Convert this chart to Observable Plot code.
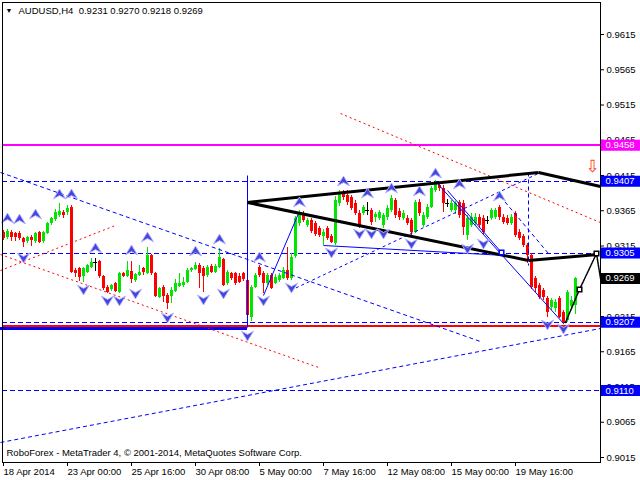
<!DOCTYPE html>
<html><head><meta charset="utf-8">
<script src="https://cdn.jsdelivr.net/npm/d3@7"></script>
<script src="https://cdn.jsdelivr.net/npm/@observablehq/plot@0.6"></script>
<style>html,body{margin:0;padding:0;background:#fff}</style>
</head><body><div id="chart"></div>
<script>
// ---- candle data (AUDUSD H4), bar index 0..143 ----
const opens  = [.9334,.9327,.9334,.9333,.9333,.9326,.9321,.9327,.9321,.9334,.9321,.9333,.9347,.9352,.9358,.9362,.9362,.9370,.9280,.9283,
.9272,.9277,.9284,.9292,.9293,.9272,.9256,.9253,.9262,.9249,.9276,.9272,.9279,.9266,.9273,.9283,.9276,.9301,.9276,.9242,
.9256,.9245,.9243,.9250,.9257,.9259,.9263,.9280,.9282,.9287,.9283,.9273,.9286,.9277,.9284,.9296,.9262,.9276,.9276,.9272,
.9276,.9266,.9214,.9256,.9284,.9276,.9262,.9273,.9262,.9266,.9269,.9280,.9269,.9300,.9347,.9361,.9344,.9351,.9347,.9340,
.9328,.9340,.9328,.9319,.9375,.9391,.9387,.9384,.9375,.9361,.9361,.9365,.9365,.9355,.9354,.9344,.9355,.9365,.9380,.9364,
.9354,.9354,.9351,.9334,.9377,.9344,.9355,.9370,.9394,.9401,.9397,.9375,.9365,.9365,.9377,.9375,.9330,.9344,.9347,.9355,
.9354,.9351,.9354,.9355,.9370,.9355,.9354,.9347,.9361,.9334,.9328,.9316,.9301,.9269,.9259,.9252,.9240,.9228,.9226,.9240,
.9221,.9209,.9229,.9231];
const highs  = [.9337,.9338,.9337,.9334,.9335,.9327,.9328,.9330,.9334,.9335,.9335,.9348,.9355,.9367,.9375,.9365,.9372,.9372,.9283,.9284,
.9284,.9289,.9297,.9297,.9294,.9273,.9259,.9260,.9263,.9277,.9277,.9293,.9293,.9276,.9287,.9284,.9313,.9303,.9277,.9256,
.9259,.9248,.9256,.9267,.9276,.9270,.9283,.9284,.9292,.9290,.9286,.9287,.9289,.9289,.9311,.9297,.9280,.9277,.9277,.9276,
.9277,.9269,.9259,.9276,.9287,.9279,.9276,.9276,.9275,.9276,.9284,.9313,.9304,.9357,.9365,.9364,.9354,.9354,.9350,.9343,
.9338,.9343,.9331,.9385,.9394,.9394,.9394,.9387,.9380,.9365,.9372,.9377,.9368,.9362,.9365,.9361,.9372,.9387,.9382,.9368,
.9365,.9358,.9354,.9380,.9381,.9362,.9374,.9399,.9408,.9404,.9401,.9381,.9380,.9378,.9380,.9380,.9358,.9361,.9361,.9360,
.9358,.9357,.9368,.9368,.9372,.9360,.9358,.9360,.9364,.9338,.9331,.9319,.9304,.9272,.9262,.9255,.9243,.9240,.9239,.9243,
.9224,.9252,.9243,.9270];
const lows   = [.9323,.9324,.9321,.9321,.9323,.9313,.9319,.9314,.9319,.9319,.9319,.9332,.9344,.9350,.9355,.9354,.9358,.9276,.9270,.9265,
.9263,.9276,.9283,.9279,.9269,.9252,.9248,.9250,.9249,.9248,.9270,.9270,.9262,.9263,.9272,.9273,.9275,.9273,.9242,.9240,
.9235,.9225,.9233,.9249,.9256,.9256,.9262,.9277,.9280,.9255,.9249,.9270,.9276,.9276,.9283,.9257,.9259,.9266,.9259,.9262,
.9265,.9205,.9208,.9255,.9270,.9248,.9259,.9253,.9260,.9263,.9267,.9266,.9266,.9297,.9343,.9348,.9341,.9333,.9328,.9327,
.9316,.9323,.9319,.9316,.9371,.9380,.9372,.9365,.9358,.9340,.9358,.9358,.9344,.9348,.9351,.9340,.9351,.9362,.9354,.9351,
.9351,.9344,.9327,.9333,.9357,.9341,.9352,.9368,.9391,.9392,.9362,.9370,.9362,.9360,.9354,.9330,.9323,.9341,.9343,.9340,
.9331,.9345,.9351,.9352,.9351,.9345,.9344,.9344,.9327,.9323,.9313,.9290,.9253,.9249,.9239,.9238,.9214,.9224,.9221,.9212,
.9204,.9207,.9224,.9218];
const closes = [.9326,.9335,.9327,.9327,.9326,.9320,.9327,.9323,.9333,.9320,.9334,.9347,.9354,.9362,.9364,.9358,.9368,.9277,.9276,.9270,
.9283,.9287,.9292,.9292,.9272,.9255,.9249,.9259,.9250,.9276,.9272,.9280,.9267,.9275,.9277,.9277,.9301,.9276,.9243,.9255,
.9243,.9233,.9252,.9262,.9262,.9263,.9280,.9283,.9287,.9276,.9272,.9284,.9277,.9286,.9299,.9259,.9277,.9269,.9262,.9263,
.9267,.9216,.9256,.9273,.9273,.9262,.9273,.9255,.9270,.9273,.9280,.9269,.9299,.9354,.9362,.9351,.9351,.9335,.9331,.9330,
.9334,.9326,.9320,.9380,.9389,.9384,.9377,.9368,.9361,.9344,.9370,.9365,.9348,.9360,.9362,.9358,.9368,.9382,.9358,.9355,
.9361,.9347,.9334,.9377,.9361,.9358,.9370,.9397,.9404,.9397,.9375,.9375,.9375,.9375,.9358,.9341,.9354,.9355,.9355,.9344,
.9334,.9351,.9365,.9365,.9355,.9348,.9347,.9355,.9330,.9326,.9316,.9301,.9256,.9255,.9242,.9242,.9221,.9238,.9235,.9214,
.9207,.9249,.9238,.9269];

// ---- axes ----
const symbolName = "AUDUSD,H4";
const copyright = "RoboForex - MetaTrader 4, \u00a9 2001-2014, MetaQuotes Software Corp.";
const xTickBars = [0, 16, 32, 48, 64, 80, 96, 112, 128];
const xTickLabels = ["18 Apr 2014","23 Apr 00:00","25 Apr 16:00","30 Apr 08:00","5 May 00:00","7 May 16:00","12 May 08:00","15 May 00:00","19 May 16:00"];
const yTicks = [0.9015,0.9065,0.9115,0.9165,0.9215,0.9265,0.9315,0.9365,0.9415,0.9465,0.9515,0.9565,0.9615];

// ---- horizontal levels ----
const levelPrices = [0.9458, 0.9407, 0.9305, 0.9269, 0.9207, 0.9110];
const levelColors = ["#ff00ff", "#0000ff", "#0000ff", "#000000", "#0000ff", "#0000ff"];
const dashedLevels = [0.9407, 0.9305, 0.9207, 0.9110];
const magentaLevel = [0.9458];
const redLevel = [0.9201];
const supportLevel = [0.9198];           // thick blue segment
const supportBars = [-1, 61];

// ---- drawn objects, in (bar, price) ----
const blueDashed = [
  {b1: -0.75, p1: 0.94193, b2: 119.25, p2: 0.91795},
  {b1: -0.75, p1: 0.90363, b2: 149.25, p2: 0.91980},
  {b1: 124.25, p1: 0.93852, b2: 136.25, p2: 0.93043},
  {b1: 131.25, p1: 0.94193, b2: 131.25, p2: 0.92873}
];
const blueDotted = [
  {b1: 71.75, p1: 0.92519, b2: 134.25, p2: 0.94193}
];
const blueSolid = [
  {b1: 65, p1: 0.92448, b2: 73.75, p2: 0.93611},
  {b1: 80, p1: 0.93157, b2: 125.5, p2: 0.93015},
  {b1: 108.5, p1: 0.94037, b2: 140, p2: 0.92051},
  {b1: 111, p1: 0.93937, b2: 124.5, p2: 0.93058},
  {b1: 61, p1: 0.94150, b2: 61, p2: 0.91994}
];
const redDotted = [
  {b1: -0.75, p1: 0.92803, b2: 28, p2: 0.93441},
  {b1: -0.75, p1: 0.93029, b2: 78.75, p2: 0.91427},
  {b1: 84.25, p1: 0.95029, b2: 149.25, p2: 0.93483}
];
const blackThick = [
  {b1: 61, p1: 0.93767, b2: 133.75, p2: 0.94193},
  {b1: 133.75, p1: 0.94193, b2: 149.25, p2: 0.93994},
  {b1: 61, p1: 0.93767, b2: 131.25, p2: 0.92944},
  {b1: 131.25, p1: 0.92944, b2: 148.5, p2: 0.93029}
];
const forecastBars = [140.5, 144, 148.25, 149.25];
const forecastPrices = [0.92065, 0.92533, 0.93043, 0.92689];
const blackSquareBars = [144, 148.25];
const blackSquarePrices = [0.92533, 0.93043];
const blueSquareBars = [124.5];
const blueSquarePrices = [0.93058];
const sellArrowBars = [147.25];
const sellArrowPrices = [0.94278];

// ---- fractals ----
const upBars = [1,4,8,14,17,23,32,36,48,54,64,74,85,91,97,104,108,114,124];
const upPrices = [0.93540,0.93526,0.93597,0.93881,0.93881,0.93115,0.93086,0.93271,0.93072,0.93242,0.92987,0.93767,0.94065,0.93895,0.93966,0.93923,0.94178,0.94023,0.93852];
const downBars = [5,20,26,29,33,41,50,55,61,65,72,82,89,92,95,102,116,120,136,140];
const downPrices = [0.92987,0.92533,0.92377,0.92377,0.92476,0.92136,0.92391,0.92476,0.91880,0.92377,0.92561,0.93058,0.93327,0.93327,0.93327,0.93185,0.93115,0.93185,0.92037,0.91980];

// ---- build ----
const bars = opens.map((o, i) => ({i, o, h: highs[i], l: lows[i], c: closes[i]}));
const candleColor = d => d.c > d.o ? "#00e600" : d.c < d.o ? "#ff0000" : "#000000";
const dojis = bars.filter(d => d.o === d.c);
const levels = levelPrices.map((v, k) => ({v, c: levelColors[k]}));
const ups = upBars.map((b, k) => ({b, p: upPrices[k]}));
const downs = downBars.map((b, k) => ({b, p: downPrices[k]}));
const forecast = forecastBars.map((b, k) => ({b, p: forecastPrices[k]}));
const last = bars[bars.length - 1];
const f4 = d3.format(".4f");
const header = symbolName + "  " + [last.o, last.h, last.l, last.c].map(f4).join(" ");

const upArrow = {draw(ctx, size) {
  const r = Math.sqrt(size / Math.PI);
  ctx.moveTo(0, -r); ctx.lineTo(r * 1.1, r * 0.8); ctx.lineTo(0, r * 0.2); ctx.lineTo(-r * 1.1, r * 0.8); ctx.closePath();
}};
const downArrow = {draw(ctx, size) {
  const r = Math.sqrt(size / Math.PI);
  ctx.moveTo(0, r); ctx.lineTo(r * 1.1, -r * 0.8); ctx.lineTo(0, -r * 0.2); ctx.lineTo(-r * 1.1, -r * 0.8); ctx.closePath();
}};

const linkOpts = (stroke, extra) => Object.assign({x1: "b1", y1: "p1", x2: "b2", y2: "p2", stroke}, extra);

const chart = Plot.plot({
  width: 640, height: 480,
  marginLeft: 2, marginRight: 40, marginTop: 2, marginBottom: 18,
  x: {domain: [-0.25, 149.25], axis: null},
  y: {domain: [0.900791, 0.966039], axis: null},
  color: {type: "identity"},
  style: {fontFamily: "'Liberation Sans', Arial, sans-serif", fontSize: "9.5px", background: "white", color: "black", overflow: "visible"},
  marks: [
    // horizontal levels
    Plot.ruleY(dashedLevels, {stroke: "#0000ff", strokeDasharray: "5,3", shapeRendering: "crispEdges"}),
    Plot.ruleY(magentaLevel, {stroke: "#ff00ff", strokeWidth: 2, shapeRendering: "crispEdges"}),
    Plot.ruleY(redLevel, {x1: () => -0.25, x2: () => 159.75, stroke: "#ff0000", strokeWidth: 2, shapeRendering: "crispEdges"}),
    Plot.ruleY(supportLevel, {x1: () => supportBars[0], x2: () => supportBars[1], stroke: "#0000ff", strokeWidth: 3, shapeRendering: "crispEdges"}),
    // candles
    Plot.ruleX(bars, {x: "i", y1: "l", y2: "h", stroke: candleColor, shapeRendering: "crispEdges"}),
    Plot.rect(bars, {x1: d => d.i - 0.375, x2: d => d.i + 0.375, y1: "o", y2: "c", fill: candleColor, shapeRendering: "crispEdges"}),
    Plot.ruleY(dojis, {y: "o", x1: d => d.i - 0.4, x2: d => d.i + 0.4, stroke: "#000000", shapeRendering: "crispEdges"}),
    // drawn objects
    Plot.link(redDotted, linkOpts("#ff0000", {strokeDasharray: "2,3"})),
    Plot.link(blueDashed, linkOpts("#0000ff", {strokeDasharray: "4,3"})),
    Plot.link(blueDotted, linkOpts("#0000ff", {strokeDasharray: "3,3"})),
    Plot.link(blueSolid, linkOpts("#0000ff", {strokeWidth: 1})),
    Plot.link(blackThick, linkOpts("#000000", {strokeWidth: 3})),
    Plot.line(forecast, {x: "b", y: "p", stroke: "#000000", strokeDasharray: "2,1"}),
    Plot.dot(blackSquareBars, {x: d => d, y: (d, k) => blackSquarePrices[k], symbol: "square", r: 2.6, fill: "white", stroke: "black"}),
    Plot.dot(blueSquareBars, {x: d => d, y: (d, k) => blueSquarePrices[k], symbol: "square", r: 2.6, fill: "white", stroke: "#0000ff"}),
    // fractals
    Plot.dot(ups, {x: "b", y: "p", symbol: upArrow, r: 5.5, fill: "#4646dc", stroke: "#b4b4ff", strokeWidth: 0.9}),
    Plot.dot(downs, {x: "b", y: "p", symbol: downArrow, r: 5.5, fill: "#4646dc", stroke: "#b4b4ff", strokeWidth: 0.9}),
    Plot.text(sellArrowBars, {x: d => d, y: (d, k) => sellArrowPrices[k], text: () => "\u21E9", fill: "#ff4020", fontSize: 17, fontFamily: "DejaVu Sans"}),
    // frame & axes
    Plot.frame({stroke: "black", shapeRendering: "crispEdges"}),
    Plot.axisX({ticks: xTickBars, tickFormat: d => xTickLabels[xTickBars.indexOf(d)], textAnchor: "start", tickSize: 4, tickPadding: 2, label: null, shapeRendering: "crispEdges"}),
    Plot.axisY({anchor: "right", ticks: yTicks, tickFormat: f4, tickSize: 3, tickPadding: 3, label: null}),
    // price labels
    Plot.ruleY(levels, {y: "v", x1: () => 149.5, x2: () => 160, stroke: "c", strokeWidth: 11}),
    Plot.text(levels, {x: () => 149.5, y: "v", text: d => f4(d.v), dx: 4, textAnchor: "start", fill: "white"}),
    // header & footer
    Plot.text(["\u25BC"], {frameAnchor: "top-left", text: d => d, dx: 3, dy: 8, lineAnchor: "middle", fontSize: 7}),
    Plot.text([header], {frameAnchor: "top-left", text: d => d, dx: 16, dy: 8, lineAnchor: "middle"}),
    Plot.text([copyright], {frameAnchor: "bottom-left", text: d => d, dx: 4, dy: -10, lineAnchor: "middle"})
  ]
});
document.getElementById("chart").appendChild(chart);
</script>
</body></html>
